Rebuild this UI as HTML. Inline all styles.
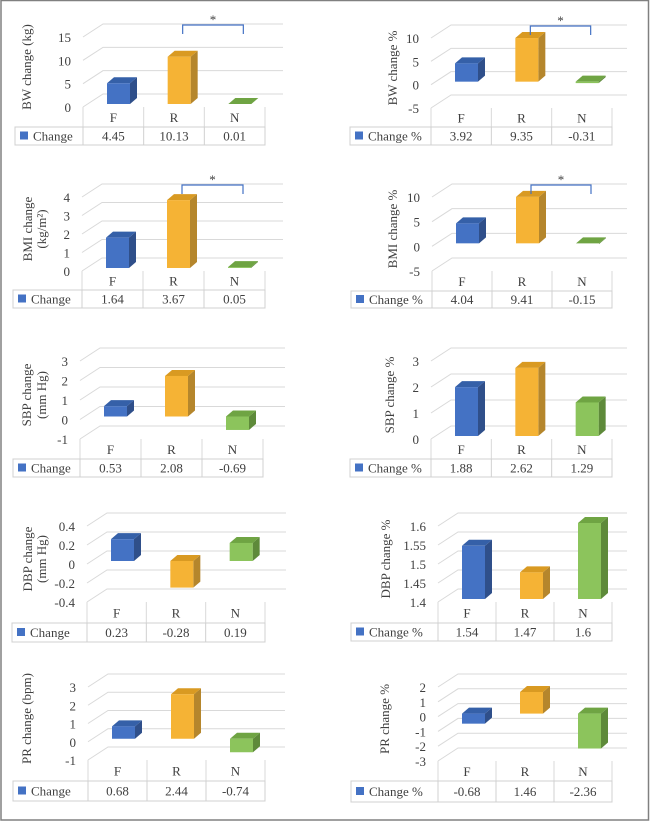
<!DOCTYPE html>
<html><head><meta charset="utf-8"><style>
html,body{margin:0;padding:0;background:#fff}
svg text{font-family:"Liberation Serif",serif;fill:#404040}
</style></head><body>
<svg id="s" width="650" height="821" viewBox="0 0 650 821" xmlns="http://www.w3.org/2000/svg">
<rect x="1" y="0.5" width="647.5" height="819.5" fill="#fff" stroke="#808080" stroke-width="1.5"/>
</svg>
<script>
const categories = ['F','R','N'];
const bwValues = [4.45, 10.13, 0.01];
const bwTicks = [15, 10, 5, 0];
const bwPctValues = [3.92, 9.35, -0.31];
const bwPctTicks = [10, 5, 0, -5];
const bmiValues = [1.64, 3.67, 0.05];
const bmiTicks = [4, 3, 2, 1, 0];
const bmiPctValues = [4.04, 9.41, -0.15];
const bmiPctTicks = [10, 5, 0, -5];
const sbpValues = [0.53, 2.08, -0.69];
const sbpTicks = [3, 2, 1, 0, -1];
const sbpPctValues = [1.88, 2.62, 1.29];
const sbpPctTicks = [3, 2, 1, 0];
const dbpValues = [0.23, -0.28, 0.19];
const dbpTicks = [0.4, 0.2, 0, -0.2, -0.4];
const dbpPctValues = [1.54, 1.47, 1.6];
const dbpPctTicks = [1.6, 1.55, 1.5, 1.45, 1.4];
const prValues = [0.68, 2.44, -0.74];
const prTicks = [3, 2, 1, 0, -1];
const prPctValues = [-0.68, 1.46, -2.36];
const prPctTicks = [2, 1, 0, -1, -2, -3];

const panels = [
 {id:'bw', vals:bwValues, ticks:bwTicks, legend:'Change', title:['BW change (kg)'], tx:[27], ax:83, yT:24, yB:94, gR:283, tL:15, tR:265, tT:127, tBt:145, sig:true},
 {id:'bw-pct', vals:bwPctValues, ticks:bwPctTicks, legend:'Change %', title:['BW change %'], tx:[393], ax:431, yT:25, yB:95, gR:627, tL:350, tR:612, tT:127, tBt:145, sig:true},
 {id:'bmi', vals:bmiValues, ticks:bmiTicks, legend:'Change', title:['BMI change','(kg/m²)'], tx:[28,42], ax:82, yT:184, yB:258, gR:283, tL:13, tR:265, tT:290, tBt:308, sig:true},
 {id:'bmi-pct', vals:bmiPctValues, ticks:bmiPctTicks, legend:'Change %', title:['BMI change %'], tx:[393], ax:432, yT:184, yB:258, gR:627, tL:351, tR:612, tT:291, tBt:308, sig:true},
 {id:'sbp', vals:sbpValues, ticks:sbpTicks, legend:'Change', title:['SBP change','(mm Hg)'], tx:[27,42], ax:80, yT:348, yB:426, gR:285, tL:13, tR:263, tT:459, tBt:477},
 {id:'sbp-pct', vals:sbpPctValues, ticks:sbpPctTicks, legend:'Change %', title:['SBP change %'], tx:[390], ax:431, yT:348, yB:426, gR:627, tL:350, tR:612, tT:459, tBt:477},
 {id:'dbp', vals:dbpValues, ticks:dbpTicks, legend:'Change', title:['DBP change','(mm Hg)'], tx:[28,42], ax:87, yT:513, yB:589, gR:286, tL:12, tR:265, tT:623, tBt:642},
 {id:'dbp-pct', vals:dbpPctValues, ticks:dbpPctTicks, legend:'Change %', title:['DBP change %'], tx:[386], ax:438, yT:513, yB:589, gR:627, tL:351, tR:612, tT:623, tBt:641},
 {id:'pr', vals:prValues, ticks:prTicks, legend:'Change', title:['PR change (bpm)'], tx:[27], ax:88, yT:674, yB:747, gR:285, tL:13, tR:265, tT:781, tBt:801},
 {id:'pr-pct', vals:prPctValues, ticks:prPctTicks, legend:'Change %', title:['PR change %'], tx:[385], ax:438, yT:674, yB:748, gR:627, tL:351, tR:612, tT:781, tBt:802}
];
const colors = [
 {front:'#4472C4', side:'#2F4F8A', top:'#3560A8'},
 {front:'#F5B335', side:'#B5862C', top:'#D99A22'},
 {front:'#8CC45C', side:'#5E8A3A', top:'#6FA443'}
];
const svg = document.getElementById('s');
const NS = 'http://www.w3.org/2000/svg';
function mk(tag, attrs, parent){
  const e = document.createElementNS(NS, tag);
  for (const k in attrs) e.setAttribute(k, attrs[k]);
  (parent||svg).appendChild(e);
  return e;
}
panels.forEach(p => {
  const g = mk('g', {});
  
  
  const max = p.ticks[0], min = p.ticks[p.ticks.length-1];
  const sc = (p.yB - p.yT) / (max - min);
  const backY = v => p.yT + (max - v) * sc;
  const base = min > 0 ? min : 0;
  const frontZero = backY(base) + 10;
  p.ticks.forEach(t => {
    const y = backY(t);
    const gl = mk('path', {d:`M${p.ax} ${y+13}L${p.ax+20} ${y}L${p.gR} ${y}`, fill:'none', stroke:'#d9d9d9', 'stroke-width':1}, g);
    
    
    const tl = mk('text', {x:p.ax-12, y:y+18, 'text-anchor':'end', 'font-size':13}, g);
    tl.textContent = String(t);
    
    
  });
  p.title.forEach((line, i) => {
    const cy = (p.yT + p.yB) / 2 + 8;
    const tt = mk('text', {x:0, y:0, 'text-anchor':'middle', 'font-size':13, transform:`translate(${p.tx[i]+4},${cy}) rotate(-90)`}, g);
    tt.textContent = line;
    
    
  });
  const cw = (p.tR - p.ax) / 3;
  const catTop = p.yB + 13;
  for (let i = 0; i <= 3; i++) {
    const x = p.ax + i * cw;
    const l = mk('line', {x1:x, y1:catTop, x2:x, y2:p.tT, stroke:'#d9d9d9'}, g);
    
    
  }
  const tb = mk('rect', {x:p.tL, y:p.tT, width:p.tR-p.tL, height:p.tBt-p.tT, fill:'none', stroke:'#d0d0d0'}, g);
  
  
  for (let i = 0; i < 3; i++) {
    const x = p.ax + i * cw;
    const l = mk('line', {x1:x, y1:p.tT, x2:x, y2:p.tBt, stroke:'#d0d0d0'}, g);
    
    
  }
  const midT = (p.tT + p.tBt) / 2 + 4.5;
  const sw = mk('rect', {x:p.tL+5, y:midT-9, width:8, height:8, fill:'#4472C4'}, g);
  
  
  const lt = mk('text', {x:p.tL+18, y:midT, 'font-size':13}, g);
  lt.textContent = p.legend;
  
  
  categories.forEach((c, i) => {
    const cs = p.ax + i * cw;
    const cx = cs + cw / 2;
    const ct = mk('text', {x:cx, y:(catTop + p.tT)/2 + 5, 'text-anchor':'middle', 'font-size':13}, g);
    ct.textContent = c;
    
    
    const vt = mk('text', {x:cx, y:midT, 'text-anchor':'middle', 'font-size':13}, g);
    vt.textContent = String(p.vals[i]);
    
    
    const v = p.vals[i];
    const x0 = cs + 24, w = 23, dx = 7, dy = 6;
    const yv = frontZero - (v - base) * sc;
    const top = Math.min(yv, frontZero), bot = Math.max(yv, frontZero);
    const col = colors[i];
    const bg = mk('g', {}, g);
    
    
    mk('path', {d:`M${x0+w} ${top}L${x0+w+dx} ${top-dy}L${x0+w+dx} ${bot-dy}L${x0+w} ${bot}Z`, fill:col.side}, bg);
    mk('path', {d:`M${x0} ${top}L${x0+dx} ${top-dy}L${x0+w+dx} ${top-dy}L${x0+w} ${top}Z`, fill:col.top}, bg);
    if (bot - top > 0.8) mk('rect', {x:x0, y:top, width:w, height:bot-top, fill:col.front}, bg);
  });
  if (p.sig) {
    const xr = p.ax + cw + 39, xn = p.ax + 2*cw + 39;
    const by = p.yT + 1;
    const br = mk('path', {d:`M${xr} ${by+9}L${xr} ${by}L${xn} ${by}L${xn} ${by+9}`, fill:'none', stroke:'#4472C4', 'stroke-width':1.2}, g);
    
    
    const st = mk('text', {x:(xr+xn)/2, y:by-1, 'text-anchor':'middle', 'font-size':13}, g);
    st.textContent = '*';
    
    
  }
});
</script>
</body></html>
